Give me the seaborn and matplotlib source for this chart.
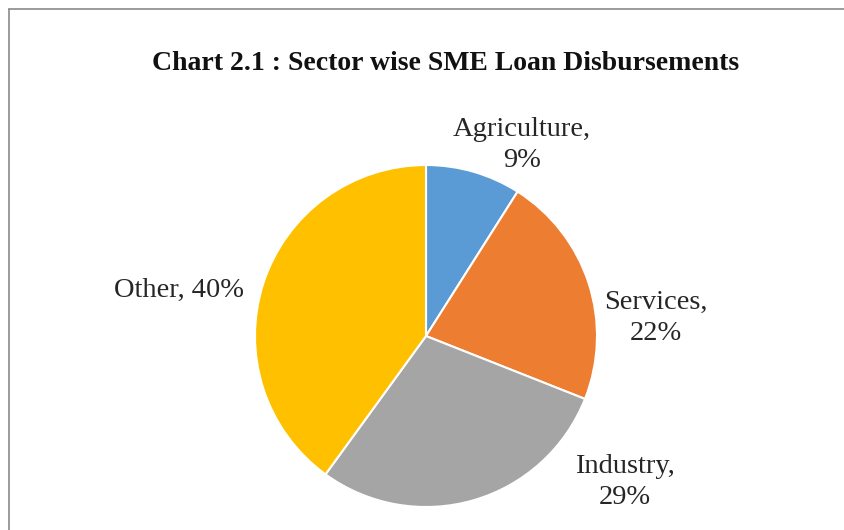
import matplotlib
matplotlib.use("Agg")
import matplotlib.pyplot as plt
from matplotlib.lines import Line2D
import seaborn as sns

sectors = ["Agriculture", "Services", "Industry", "Other"]
shares = [9, 22, 29, 40]
colors = ["#5B9BD5", "#ED7D31", "#A5A5A5", "#FFC000"]
title = "Chart 2.1 : Sector wise SME Loan Disbursements"

# label anchor points in pie data units (radius = 1)
label_pos = {
    "Agriculture": (0.56, 1.117),
    "Services": (1.344, 0.105),
    "Industry": (1.164, -0.854),
    "Other": (-1.447, 0.265),
}
label_fmt = {
    "Agriculture": "{name},\n{pct}%",
    "Services": "{name},\n{pct}%",
    "Industry": "{name},\n{pct}%",
    "Other": "{name}, {pct}%",
}

sns.set_theme(style="white")
plt.rcParams["font.family"] = ["Liberation Serif", "DejaVu Serif"]

W, H = 844, 530
fig = plt.figure(figsize=(W / 100, H / 100), dpi=100)
fig.patch.set_facecolor("white")

cx, cy, r = 426, 336, 171
ax = fig.add_axes([(cx - r) / W, (H - cy - r) / H, 2 * r / W, 2 * r / H])
ax.pie(shares, colors=colors, startangle=90, counterclock=False,
       wedgeprops=dict(edgecolor="white", linewidth=1.5))
ax.set_xlim(-1, 1)
ax.set_ylim(-1, 1)
ax.set_aspect("equal")
ax.axis("off")

for name, pct in zip(sectors, shares):
    x, y = label_pos[name]
    ax.text(x, y, label_fmt[name].format(name=name, pct=pct),
            ha="center", va="center", fontsize=20.5, color="#262626",
            linespacing=1.3)

fig.text(446 / W, 1 - 63 / H, title, ha="center", va="center",
         fontsize=20, fontweight="bold", color="#111111")

# chart frame (top and left edges visible)
fig.add_artist(Line2D([9 / W, 1], [1 - 9 / H, 1 - 9 / H], color="#8a8a8a",
                      linewidth=1.2, transform=fig.transFigure))
fig.add_artist(Line2D([9 / W, 9 / W], [0, 1 - 9 / H], color="#8a8a8a",
                      linewidth=1.2, transform=fig.transFigure))

fig.savefig("out.png", dpi=100, facecolor="white")
